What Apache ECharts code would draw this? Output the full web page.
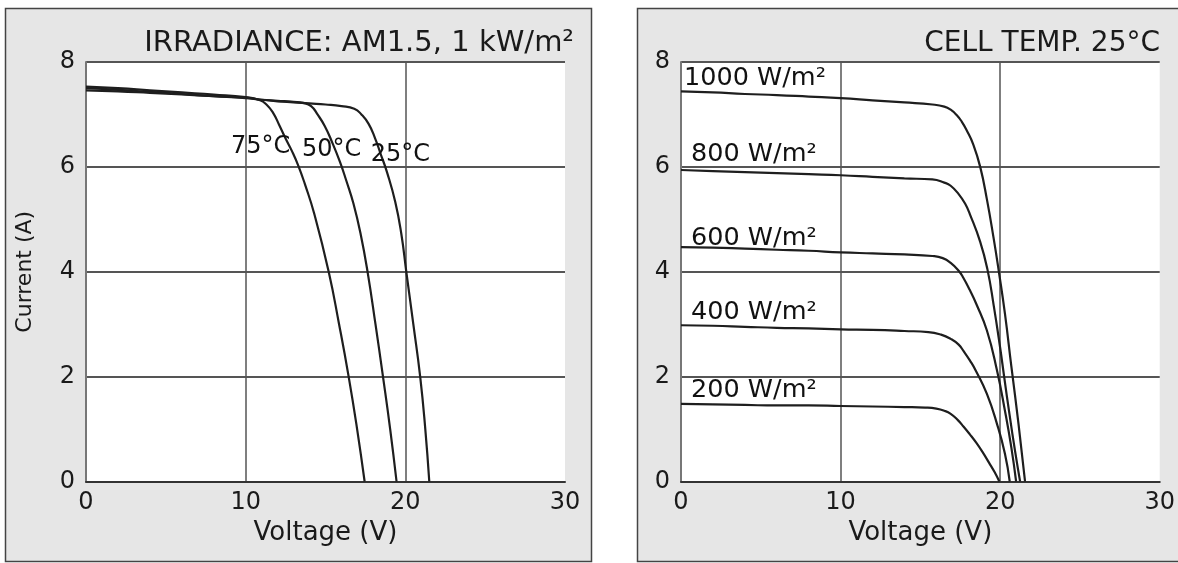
<!DOCTYPE html>
<html><head><meta charset="utf-8">
<script src="https://cdn.jsdelivr.net/npm/echarts@6/dist/echarts.min.js"></script>
<style>html,body{margin:0;padding:0;background:#fff}#c{width:1178px;height:563px}</style>
</head><body><div id="c"></div>
<script>
// ---------- data (Voltage V, Current A) ----------
const voltTicks = [0, 10, 20, 30];
const currentTicks = [0, 2, 4, 6, 8];

const tempNames = ['75°C', '50°C', '25°C'];
const t75 = [[0,7.53],[2,7.50],[4,7.46],[6,7.42],[8,7.38],[10,7.33],[10.9,7.27],[11.3,7.19],[11.7,7.04],[12.1,6.80],[12.5,6.54],[12.9,6.30],[13.3,6.02],[13.7,5.68],[14.3,5.10],[15.2,4.0],[15.85,3.0],[16.45,2.0],[16.98,1.0],[17.45,0]];
const t50 = [[0,7.50],[2,7.47],[4,7.43],[6,7.39],[8,7.35],[10,7.31],[11,7.28],[12,7.26],[13,7.24],[13.6,7.22],[14.1,7.16],[14.5,7.0],[14.95,6.78],[15.4,6.48],[15.9,6.10],[16.3,5.74],[16.75,5.30],[17.2,4.72],[17.65,3.97],[18.13,3.0],[18.6,2.0],[19.05,1.0],[19.45,0]];
const t25 = [[0,7.46],[2,7.44],[4,7.41],[6,7.38],[8,7.35],[10,7.32],[11,7.28],[12,7.25],[13,7.23],[14,7.21],[15,7.19],[16,7.16],[16.8,7.11],[17.25,7.0],[17.7,6.82],[18.1,6.55],[18.45,6.25],[18.85,5.90],[19.37,5.33],[19.75,4.72],[20.06,4.0],[20.5,3.0],[20.93,2.0],[21.25,1.0],[21.5,0]];

const irrNames = ['1000 W/m²', '800 W/m²', '600 W/m²', '400 W/m²', '200 W/m²'];
const g1000 = [[0,7.44],[2,7.42],[4,7.39],[6,7.37],[8,7.34],[10,7.31],[12,7.27],[14,7.23],[15.75,7.19],[16.5,7.15],[16.9,7.09],[17.3,6.98],[17.6,6.86],[17.9,6.70],[18.3,6.44],[18.75,6.0],[19.17,5.38],[19.58,4.66],[19.92,4.0],[20.3,3.2],[20.7,2.2],[21.15,1.1],[21.56,0]];
const g800 = [[0,5.94],[2,5.92],[4,5.90],[6,5.88],[8,5.86],[10,5.84],[12,5.81],[14,5.78],[15.75,5.76],[16.5,5.70],[16.9,5.64],[17.4,5.48],[17.8,5.30],[18.1,5.10],[18.75,4.57],[19.2,4.05],[19.6,3.35],[20.0,2.55],[20.25,2.0],[20.6,1.25],[20.95,0.55],[21.25,0]];
const g600 = [[0,4.47],[2,4.46],[4,4.44],[6,4.42],[8,4.40],[10,4.37],[12,4.35],[14,4.33],[15.75,4.30],[16.4,4.26],[16.9,4.17],[17.4,4.02],[17.7,3.88],[18.1,3.65],[18.5,3.39],[19.17,2.88],[19.8,2.12],[20.3,1.35],[20.7,0.65],[21.0,0]];
const g400 = [[0,2.98],[2,2.97],[4,2.95],[6,2.93],[8,2.92],[10,2.90],[12,2.89],[14,2.87],[15.5,2.85],[16.3,2.80],[16.9,2.72],[17.4,2.61],[17.7,2.49],[18.1,2.31],[18.5,2.10],[19.17,1.67],[19.8,1.10],[20.3,0.53],[20.6,0]];
const g200 = [[0,1.48],[2,1.47],[4,1.46],[6,1.45],[8,1.45],[10,1.44],[12,1.43],[14,1.42],[15.3,1.41],[16.0,1.39],[16.5,1.35],[16.9,1.29],[17.35,1.17],[17.7,1.05],[18.1,0.90],[18.5,0.74],[18.9,0.56],[19.3,0.36],[19.65,0.18],[19.95,0]];

// annotation anchors (data units)
const tempLabelAt = [[10.94,6.38],[15.39,6.32],[19.69,6.23]];
const irrLabelAt = [[0.19,7.69],[0.63,6.24],[0.63,4.64],[0.63,3.22],[0.63,1.73]];

const titleLeft = 'IRRADIANCE: AM1.5, 1 kW/m²';
const titleRight = 'CELL TEMP. 25°C';
const xName = 'Voltage (V)';
const yName = 'Current (A)';

// ---------- chart ----------
const FONT = 'DejaVu Sans';
const chart = echarts.init(document.getElementById('c'), null, {renderer: 'canvas'});

function xAxisOf(gi) {
  return {
    type: 'value', gridIndex: gi,
    min: voltTicks[0], max: voltTicks[voltTicks.length - 1], interval: voltTicks[1] - voltTicks[0],
    name: xName, nameLocation: 'middle', nameGap: 39,
    nameTextStyle: {fontFamily: FONT, fontSize: 26, color: '#1a1a1a'},
    axisLine: {show: true, lineStyle: {color: '#333', width: 2}},
    axisTick: {show: false},
    axisLabel: {fontFamily: FONT, fontSize: 24, color: '#1a1a1a', margin: 9},
    splitLine: {show: true, showMaxLine: false, lineStyle: {color: '#555', width: 1.5}}
  };
}
function yAxisOf(gi, withName) {
  const a = {
    type: 'value', gridIndex: gi,
    min: currentTicks[0], max: currentTicks[currentTicks.length - 1], interval: currentTicks[1] - currentTicks[0],
    axisLine: {show: true, lineStyle: {color: '#777', width: 2}},
    axisTick: {show: false},
    axisLabel: {fontFamily: FONT, fontSize: 24, color: '#1a1a1a', margin: 11},
    splitLine: {show: true, lineStyle: {color: '#555', width: 2}}
  };
  if (withName) {
    a.name = yName; a.nameLocation = 'middle'; a.nameGap = 50; a.nameRotate = 90;
    a.nameTextStyle = {fontFamily: FONT, fontSize: 22, color: '#1a1a1a'};
  }
  return a;
}
function curve(name, data, gi) {
  return {
    type: 'line', name, data, xAxisIndex: gi, yAxisIndex: gi,
    showSymbol: false, symbol: 'none', smooth: 0.5,
    lineStyle: {color: '#1e1e1e', width: 2.2}, z: 3, silent: true
  };
}
function labels(names, at, gi, pos, size) {
  return {
    type: 'scatter', xAxisIndex: gi, yAxisIndex: gi, symbolSize: 0, silent: true, z: 5,
    itemStyle: {opacity: 1},
    data: names.map((n, i) => ({name: n, value: at[i]})),
    label: {show: true, position: pos, distance: 0, formatter: p => p.name, opacity: 1,
      fontFamily: FONT, fontSize: size, color: '#111'}
  };
}

const option = {
  backgroundColor: '#ffffff',
  animation: false,
  graphic: [
    {type: 'rect', z: -10, silent: true, shape: {x: 5.5, y: 8.5, width: 586, height: 553},
      style: {fill: '#e6e6e6', stroke: '#444', lineWidth: 1.5}},
    {type: 'rect', z: -10, silent: true, shape: {x: 637.5, y: 8.5, width: 580, height: 553},
      style: {fill: '#e6e6e6', stroke: '#444', lineWidth: 1.5}}
  ],
  title: [
    {text: titleLeft, right: 604, top: 28.5, padding: 0,
      textStyle: {fontFamily: FONT, fontSize: 29, fontWeight: 'normal', color: '#1a1a1a'}},
    {text: titleRight, right: 18, top: 30, padding: 0,
      textStyle: {fontFamily: FONT, fontSize: 28, fontWeight: 'normal', color: '#1a1a1a'}}
  ],
  grid: [
    {left: 86, top: 62, width: 479, height: 419.5, show: true, backgroundColor: '#ffffff', borderWidth: 0},
    {left: 681, top: 62, width: 480, height: 419.5, show: true, backgroundColor: '#ffffff', borderWidth: 0}
  ],
  xAxis: [xAxisOf(0), xAxisOf(1)],
  yAxis: [yAxisOf(0, true), yAxisOf(1, false)],
  series: [
    curve(tempNames[0], t75, 0), curve(tempNames[1], t50, 0), curve(tempNames[2], t25, 0),
    curve(irrNames[0], g1000, 1), curve(irrNames[1], g800, 1), curve(irrNames[2], g600, 1),
    curve(irrNames[3], g400, 1), curve(irrNames[4], g200, 1),
    labels(tempNames, tempLabelAt, 0, 'inside', 24),
    labels(irrNames, irrLabelAt, 1, 'right', 25.5)
  ]
};
chart.setOption(option);
</script></body></html>
